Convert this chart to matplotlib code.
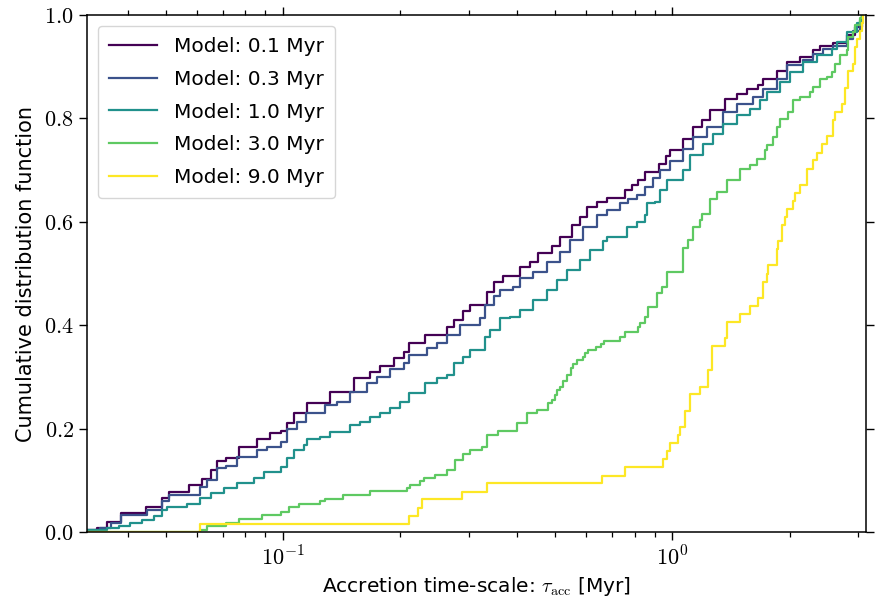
import numpy as np
import matplotlib
matplotlib.use("Agg")
import matplotlib.pyplot as plt
from matplotlib.ticker import FuncFormatter, LogLocator, MultipleLocator

# ---- data: step-CDF breakpoints (tau_acc [Myr], CDF level after the step) ----
labels = ["Model: 0.1 Myr", "Model: 0.3 Myr", "Model: 1.0 Myr", "Model: 3.0 Myr", "Model: 9.0 Myr"]

m01_x = [0.0314, 0.0333, 0.0354, 0.0383, 0.0444, 0.0490, 0.0510, 0.0574, 0.0621, 0.0652, 0.0678, 0.0713,
         0.0771, 0.0859, 0.0929, 0.0986, 0.1026, 0.1067, 0.1152, 0.1322, 0.1518, 0.1675, 0.1777, 0.1923,
         0.2040, 0.2101, 0.2318, 0.2636, 0.2741, 0.2907, 0.3025, 0.3339, 0.3472, 0.3683, 0.4064, 0.4312,
         0.4529, 0.4902, 0.5149, 0.5517, 0.5796, 0.6030, 0.6397, 0.6786, 0.7559, 0.7866, 0.8178, 0.8510,
         0.921, 0.964, 0.9865, 1.067, 1.132, 1.190, 1.250, 1.366, 1.463, 1.552, 1.663, 1.712, 1.854, 1.966,
         2.127, 2.301, 2.394, 2.589, 2.803, 2.943, 3.062, 3.068]
m01_y = [0.004, 0.008, 0.020, 0.037, 0.049, 0.065, 0.077, 0.091, 0.103, 0.120, 0.138, 0.144, 0.165, 0.179,
         0.192, 0.195, 0.210, 0.230, 0.249, 0.271, 0.297, 0.310, 0.322, 0.336, 0.349, 0.365, 0.381, 0.397,
         0.411, 0.428, 0.439, 0.465, 0.484, 0.496, 0.513, 0.523, 0.539, 0.554, 0.571, 0.594, 0.610, 0.628,
         0.639, 0.647, 0.661, 0.671, 0.681, 0.697, 0.712, 0.728, 0.738, 0.761, 0.783, 0.796, 0.816, 0.838,
         0.848, 0.857, 0.865, 0.877, 0.891, 0.909, 0.919, 0.932, 0.941, 0.945, 0.961, 0.977, 0.993, 1.000]

m03_x = [0.0314, 0.0340, 0.0361, 0.0383, 0.0449, 0.0490, 0.0510, 0.0614, 0.0640, 0.0678, 0.0713, 0.0763,
         0.0859, 0.0911, 0.0986, 0.1026, 0.1088, 0.1143, 0.1284, 0.1376, 0.1488, 0.1643, 0.1743, 0.1886,
         0.2040, 0.2101, 0.2342, 0.2485, 0.2636, 0.2851, 0.3208, 0.3306, 0.3472, 0.3612, 0.3906, 0.4064,
         0.4397, 0.4761, 0.5149, 0.5462, 0.5910, 0.6397, 0.6786, 0.7339, 0.7709, 0.8101, 0.8510, 0.8938,
         0.9298, 0.9865, 1.067, 1.132, 1.226, 1.352, 1.463, 1.614, 1.712, 1.854, 1.966, 2.169, 2.301, 2.441,
         2.589, 2.803, 2.914, 3.031, 3.068]
m03_y = [0.003, 0.007, 0.017, 0.033, 0.043, 0.060, 0.072, 0.088, 0.100, 0.123, 0.128, 0.146, 0.159, 0.165,
         0.175, 0.200, 0.213, 0.230, 0.246, 0.252, 0.271, 0.288, 0.300, 0.315, 0.326, 0.342, 0.355, 0.365,
         0.381, 0.400, 0.413, 0.439, 0.456, 0.468, 0.474, 0.491, 0.503, 0.523, 0.542, 0.565, 0.590, 0.613,
         0.623, 0.636, 0.645, 0.652, 0.668, 0.684, 0.700, 0.718, 0.741, 0.764, 0.783, 0.812, 0.828, 0.841,
         0.857, 0.877, 0.903, 0.912, 0.925, 0.935, 0.941, 0.954, 0.970, 0.990, 1.000]

m10_x = [0.0314, 0.0354, 0.0379, 0.0406, 0.0435, 0.0467, 0.0490, 0.0505, 0.0568, 0.0614, 0.0652, 0.0706,
         0.0763, 0.0842, 0.0894, 0.0986, 0.1026, 0.1067, 0.1132, 0.1155, 0.1247, 0.1322, 0.1488, 0.1579,
         0.1675, 0.1777, 0.1886, 0.2000, 0.2101, 0.2318, 0.2485, 0.2636, 0.2741, 0.2907, 0.3025, 0.3306,
         0.3404, 0.3612, 0.3831, 0.4064, 0.4397, 0.4761, 0.5050, 0.5357, 0.5796, 0.6149, 0.6651, 0.6786,
         0.7636, 0.8101, 0.8510, 0.8597, 0.9029, 0.9298, 0.9674, 1.067, 1.110, 1.201, 1.274, 1.352, 1.463,
         1.583, 1.679, 1.747, 1.890, 2.005, 2.169, 2.348, 2.565, 2.642, 2.803, 2.973, 3.062, 3.068]
m10_y = [0.003, 0.007, 0.012, 0.017, 0.023, 0.030, 0.043, 0.049, 0.055, 0.065, 0.076, 0.085, 0.094, 0.104,
         0.117, 0.126, 0.143, 0.159, 0.168, 0.179, 0.184, 0.194, 0.207, 0.213, 0.223, 0.230, 0.239, 0.252,
         0.268, 0.288, 0.297, 0.304, 0.326, 0.339, 0.352, 0.378, 0.391, 0.413, 0.416, 0.429, 0.449, 0.468,
         0.487, 0.507, 0.526, 0.545, 0.562, 0.571, 0.590, 0.600, 0.613, 0.636, 0.639, 0.661, 0.681, 0.700,
         0.729, 0.751, 0.770, 0.790, 0.806, 0.819, 0.835, 0.851, 0.870, 0.890, 0.909, 0.922, 0.935, 0.948,
         0.967, 0.984, 0.994, 1.000]

m30_x = [0.0314, 0.0614, 0.0640, 0.0713, 0.0771, 0.0885, 0.0986, 0.1036, 0.1099, 0.1247, 0.1284, 0.1430,
         0.1675, 0.2081, 0.2122, 0.2251, 0.2296, 0.2460, 0.2636, 0.2768, 0.2907, 0.3025, 0.3241, 0.3339,
         0.3576, 0.3985, 0.4229, 0.4486, 0.4778, 0.4902, 0.4999, 0.5068, 0.5149, 0.5233, 0.5377, 0.5485,
         0.5570, 0.5704, 0.5910, 0.5970, 0.6088, 0.6370, 0.6549, 0.6680, 0.7339, 0.7559, 0.8178, 0.8262,
         0.8510, 0.8679, 0.9120, 0.9393, 0.9674, 1.067, 1.099, 1.132, 1.178, 1.190, 1.250, 1.300, 1.379,
         1.492, 1.583, 1.647, 1.729, 1.747, 1.816, 1.854, 1.890, 1.985, 2.045, 2.127, 2.257, 2.301, 2.394,
         2.490, 2.565, 2.615, 2.694, 2.803, 2.829, 2.914, 2.943, 3.031, 3.068]
m30_y = [0.000, 0.004, 0.012, 0.017, 0.025, 0.033, 0.039, 0.049, 0.055, 0.059, 0.063, 0.072, 0.080, 0.085,
         0.091, 0.099, 0.104, 0.110, 0.120, 0.139, 0.150, 0.159, 0.165, 0.188, 0.195, 0.210, 0.231, 0.236,
         0.249, 0.255, 0.265, 0.275, 0.281, 0.293, 0.304, 0.317, 0.325, 0.333, 0.339, 0.346, 0.352, 0.358,
         0.364, 0.370, 0.377, 0.387, 0.397, 0.404, 0.416, 0.436, 0.462, 0.474, 0.503, 0.549, 0.565, 0.590,
         0.603, 0.616, 0.645, 0.658, 0.681, 0.703, 0.709, 0.722, 0.738, 0.748, 0.764, 0.783, 0.799, 0.812,
         0.835, 0.841, 0.851, 0.861, 0.877, 0.880, 0.890, 0.906, 0.922, 0.932, 0.957, 0.967, 0.980, 0.994,
         1.000]

m90_x = [0.0314, 0.0614, 0.2101, 0.2228, 0.2274, 0.2879, 0.3339, 0.6588, 0.7559, 0.9482, 0.9674, 0.9865,
         1.031, 1.047, 1.078, 1.110, 1.178, 1.237, 1.262, 1.366, 1.379, 1.492, 1.583, 1.663, 1.712, 1.747,
         1.764, 1.854, 1.871, 1.909, 1.946, 1.966, 2.045, 2.065, 2.127, 2.220, 2.301, 2.348, 2.418, 2.490,
         2.580, 2.615, 2.721, 2.775, 2.829, 2.914, 2.943, 2.973, 3.031, 3.062, 3.092]
m90_y = [0.000, 0.016, 0.031, 0.047, 0.063, 0.078, 0.094, 0.109, 0.125, 0.141, 0.156, 0.172, 0.188, 0.203,
         0.234, 0.266, 0.281, 0.313, 0.359, 0.375, 0.406, 0.422, 0.438, 0.453, 0.484, 0.500, 0.516, 0.547,
         0.563, 0.594, 0.609, 0.625, 0.641, 0.656, 0.672, 0.703, 0.719, 0.734, 0.750, 0.766, 0.797, 0.813,
         0.828, 0.859, 0.891, 0.906, 0.938, 0.953, 0.969, 0.984, 1.000]

xlim = (0.0314, 3.14)
ylim = (0.0, 1.0)

series = [(m01_x, m01_y), (m03_x, m03_y), (m10_x, m10_y), (m30_x, m30_y), (m90_x, m90_y)]

# ---- style ----
plt.rcParams["font.family"] = ["DejaVu Sans"]
plt.rcParams["mathtext.fontset"] = "cm"

fig = plt.figure(figsize=(8.75, 6.02), dpi=100)
ax = fig.add_axes([87 / 875, 1 - 532 / 602, (866 - 87) / 875, (532 - 15) / 602])

colors = plt.cm.viridis(np.linspace(0, 1, len(series)))
for (xs, ys), c, lab in zip(series, colors, labels):
    n = min(len(xs), len(ys))
    ax.step(xs[:n], ys[:n], where="post", color=c, lw=1.6, label=lab)

ax.set_xscale("log")
ax.set_xlim(*xlim)
ax.set_ylim(*ylim)

ax.yaxis.set_major_locator(MultipleLocator(0.2))
ax.yaxis.set_major_formatter(FuncFormatter(lambda v, p: r"$%.1f$" % v))
ax.xaxis.set_major_locator(LogLocator(base=10))
ax.xaxis.set_minor_locator(LogLocator(base=10, subs=np.arange(2, 10)))
ax.xaxis.set_major_formatter(FuncFormatter(lambda v, p: r"$10^{%d}$" % int(round(np.log10(v)))))
ax.xaxis.set_minor_formatter(FuncFormatter(lambda v, p: ""))

ax.tick_params(which="both", direction="out", top=True, right=True, labelsize=16)
ax.tick_params(which="major", length=6, width=1.0)
ax.tick_params(which="minor", length=3.5, width=0.9)
for s in ax.spines.values():
    s.set_linewidth(1.1)

ax.set_xlabel(r"Accretion time-scale: $\tau_{\rm acc}$ [Myr]", fontsize=14.5, labelpad=4)
ax.set_ylabel("Cumulative distribution function", fontsize=15, labelpad=6)

leg = ax.legend(loc="upper left", fontsize=14.5, handlelength=2.4, labelspacing=0.68,
                borderpad=0.55, handletextpad=0.8, framealpha=0.8, borderaxespad=0.55)

fig.savefig("out.png", dpi=100)
